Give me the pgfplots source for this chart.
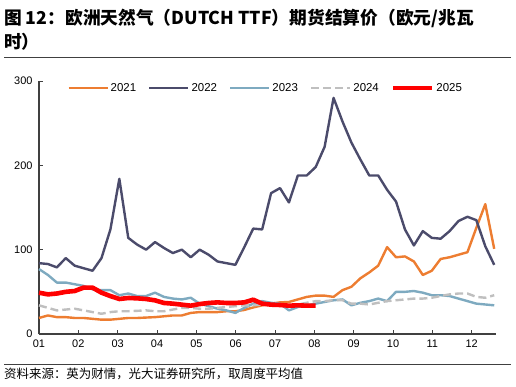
\documentclass[border=0pt]{standalone}
\usepackage{pgfplots}
\pgfplotsset{compat=1.18}
\usepackage{fontspec}
\setmainfont{Liberation Sans}
\newfontfamily\cjk{Noto Sans CJK SC}
\definecolor{c21}{HTML}{ED7D31}
\definecolor{c22}{HTML}{4B4B6B}
\definecolor{c23}{HTML}{7EAAC0}
\definecolor{c24}{HTML}{BFBFBF}
\definecolor{c25}{HTML}{FF0000}
\definecolor{axc}{HTML}{404040}
\begin{document}
\begin{tikzpicture}[x=1bp,y=1bp]
\useasboundingbox (0,0) rectangle (516,386);
\node[anchor=west, inner sep=0, font=\cjk\bfseries\fontsize{17.8}{19}\selectfont] at (4,368) {图 12：欧洲天然气（DUTCH TTF）期货结算价（欧元/兆瓦};
\node[anchor=west, inner sep=0, font=\cjk\bfseries\fontsize{17.8}{19}\selectfont] at (4,344) {时）};
\draw[line width=0.9bp, color=axc] (4,329) -- (511,329);
\draw[line width=0.9bp, color=axc] (4,22) -- (511,22);
\node[anchor=west, inner sep=0, font=\cjk\fontsize{12.5}{14}\selectfont] at (4,12.5) {资料来源：英为财情，光大证券研究所，取周度平均值};
\begin{axis}[
  at={(39bp,52bp)}, anchor=south west,
  scale only axis, width=457bp, height=253bp,
  xmin=0, xmax=51.2, ymin=0, ymax=300,
  axis x line=bottom, axis y line=left,
  axis line style={-, color=axc, line width=1.2bp},
  tick align=inside, major tick length=4bp,
  tick style={color=axc, line width=1bp},
  xtick={0,4.407,8.814,13.221,17.628,22.035,26.442,30.849,35.256,39.663,44.07,48.477},
  xticklabels={01,02,03,04,05,06,07,08,09,10,11,12},
  ytick={0,100,200,300},
  yticklabels={0,100,200,300},
  ticklabel style={font=\fontsize{11}{12}\selectfont},
  yticklabel style={xshift=-3bp},
  xticklabel style={yshift=-2bp},
  clip=false,
  legend columns=5,
  legend style={at={(0.055,0.972)}, anchor=west, draw=none, fill=none,
    font=\fontsize{11.5}{12}\selectfont,
    /tikz/every even column/.append style={column sep=10bp},
    nodes={inner sep=2bp}},
  legend image code/.code={\draw[#1, line cap=butt] (0bp,0bp) -- (39bp,0bp);},
  every axis plot/.append style={line join=round, no markers},
]
\addplot[c21, line width=2.4bp] coordinates {
(0,19)(1,22)(2,20)(3,20)(4,19)(5,19)(6,18)(7,17)(8,17)(9,18)(10,19)(11,19)(12,19.5)(13,20)(14,21)(15,22)(16,22)(17,25)(18,26)(19,26)(20,26)(21,27)(22,27)(23,28.5)(24,31.5)(25,34)(26,36)(27,37.5)(28,38)(29,41)(30,44)(31,45.5)(32,45.5)(33,44)(34,52)(35,56)(36,66)(37,73)(38,81)(39,103)(40,91)(41,92)(42,86)(43,70)(44,75)(45,89)(46,91)(47,94)(48,97)(49,126)(50,154)(51,101)};
\addplot[c22, line width=2.4bp] coordinates {
(0,84)(1,83)(2,79)(3,90)(4,81)(5,78)(6,75)(7,90)(8,124)(9,184)(10,114)(11,106)(12,100)(13,109)(14,102)(15,96)(16,100)(17,91)(18,100)(19,94)(20,86)(21,84)(22,82)(23,103)(24,125)(25,124)(26,167)(27,173)(28,156)(29,188)(30,188)(31,198)(32,222)(33,280)(34,252)(35,227)(36,207)(37,188)(38,188)(39,171)(40,157)(41,124)(42,105)(43,122)(44,114)(45,113)(46,122)(47,134)(48,139)(49,135)(50,104)(51,82)};
\addplot[c23, line width=2.4bp] coordinates {
(0,77)(1,70)(2,61)(3,61)(4,59)(5,57)(6,53)(7,52)(8,52)(9,46)(10,48)(11,45)(12,45)(13,49)(14,44)(15,42)(16,41)(17,43)(18,36)(19,33)(20,30)(21,28)(22,25)(23,31)(24,36)(25,39)(26,37)(27,36)(28,28)(29,32)(30,34)(31,36)(32,38)(33,40)(34,41)(35,34)(36,37)(37,39)(38,42)(39,39)(40,50)(41,50)(42,51)(43,49)(44,46)(45,46)(46,45)(47,42)(48,39)(49,36)(50,35)(51,34)};
\addplot[c24, line width=2.4bp, dash pattern=on 8bp off 4bp] coordinates {
(0,34)(1,31)(2,28)(3,29)(4,30)(5,28)(6,26)(7,24)(8,26)(9,27)(10,27)(11,27.5)(12,28)(13,27)(14,27)(15,29)(16,31)(17,31)(18,30)(19,30)(20,31)(21,32)(22,33)(23,34)(24,34)(25,35)(26,35)(27,35)(28,34)(29,35)(30,37)(31,39)(32,39)(33,40)(34,40)(35,36)(36,36)(37,35)(38,37)(39,39)(40,40)(41,41)(42,42)(43,42)(44,43)(45,45)(46,47)(47,48)(48,48)(49,44)(50,43)(51,46)};
\addplot[c25, line width=4.6bp] coordinates {
(0,49)(1,47)(2,48)(3,50)(4,51)(5,55)(6,55)(7,49)(8,45)(9,41.5)(10,42.7)(11,42.3)(12,41.5)(13,39.9)(14,36.8)(15,36)(16,34.8)(17,33.6)(18,35.5)(19,36.8)(20,37.5)(21,36.8)(22,36.8)(23,37.5)(24,40.7)(25,36)(26,34.8)(27,34.4)(28,33.6)(29,34)(30,33.6)(31,33.6)};
\legend{2021,2022,2023,2024,2025}
\end{axis}
\end{tikzpicture}
\end{document}
